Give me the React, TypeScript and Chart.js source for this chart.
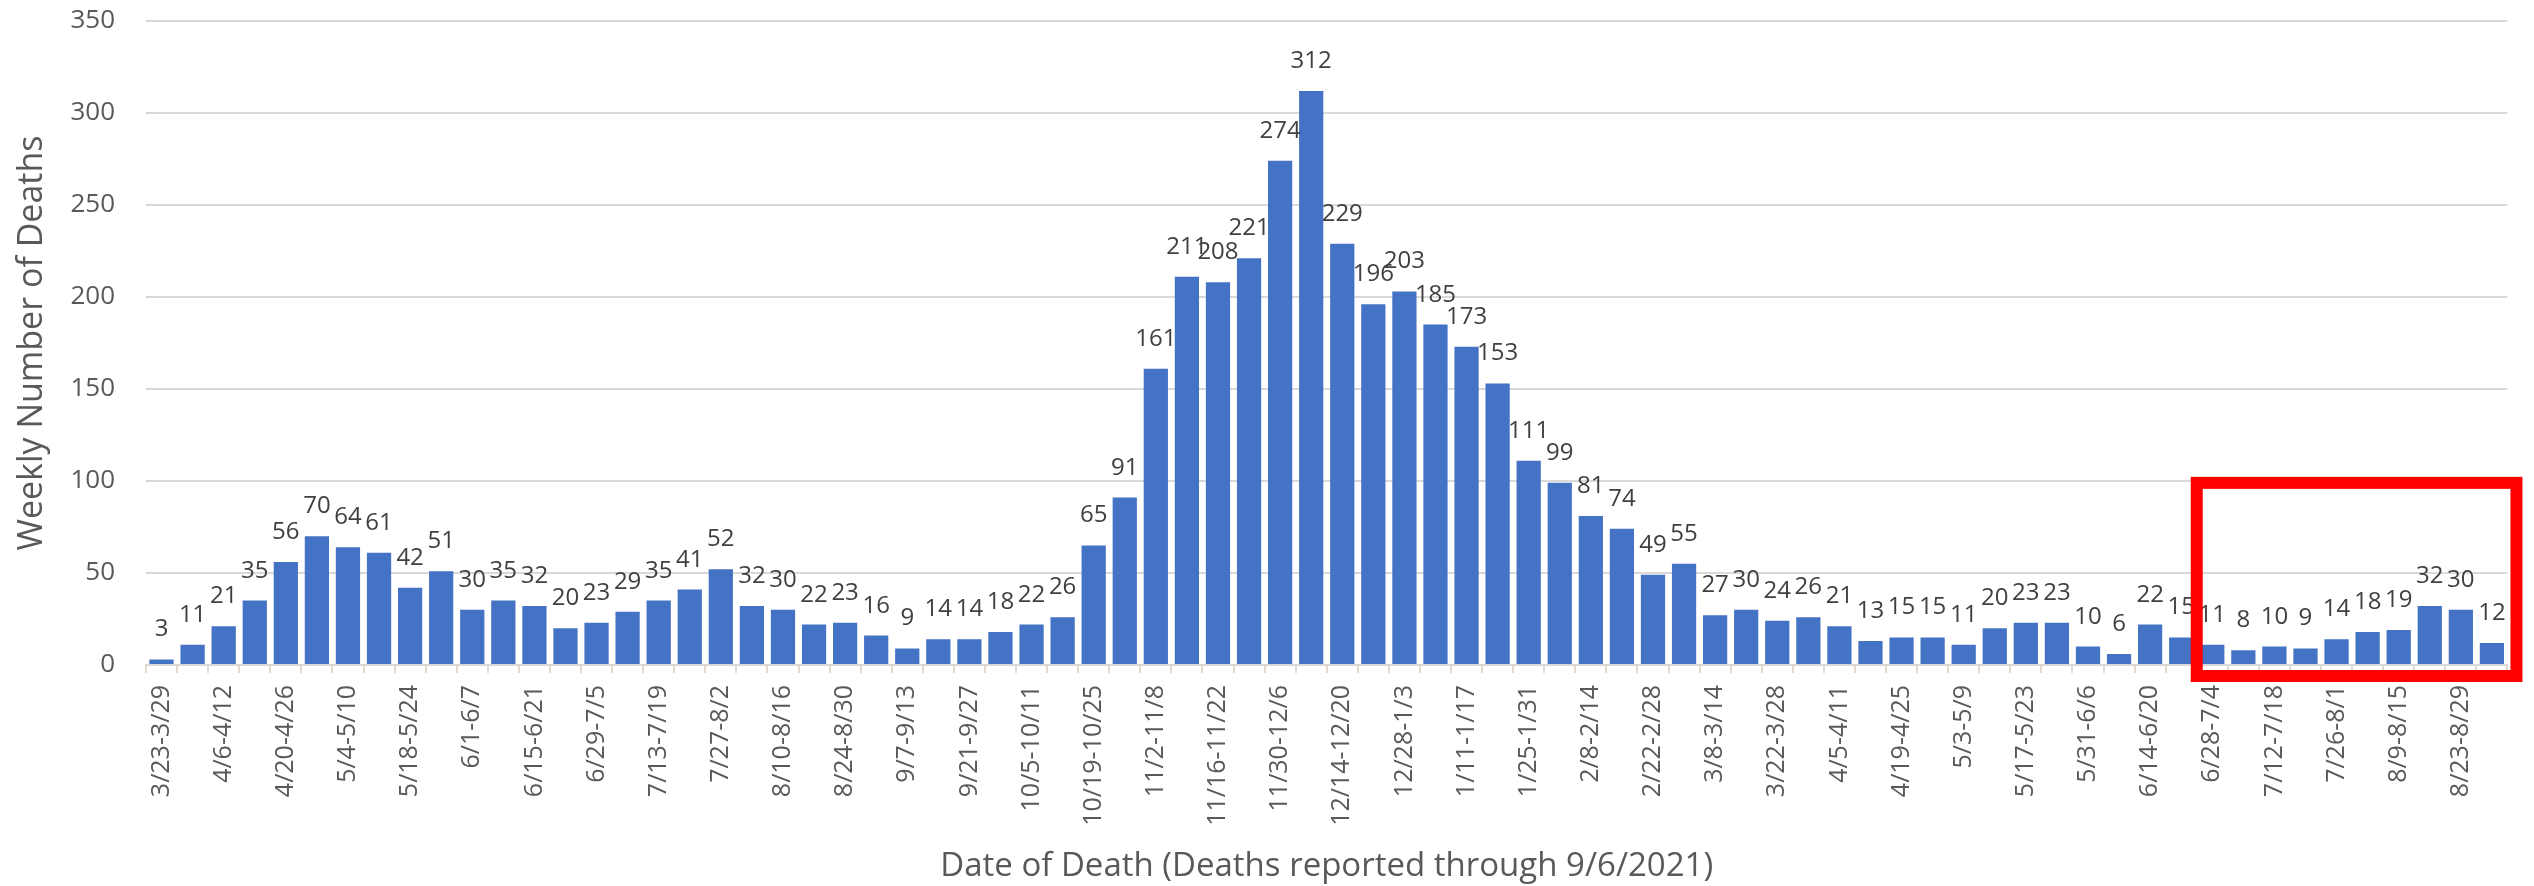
import React, { useEffect, useRef } from "react";
import { Chart, registerables } from "chart.js";

Chart.register(...registerables);

const weekLabels: string[] = [
  "3/23-3/29", "3/30-4/5", "4/6-4/12", "4/13-4/19", "4/20-4/26", "4/27-5/3",
  "5/4-5/10", "5/11-5/17", "5/18-5/24", "5/25-5/31", "6/1-6/7", "6/8-6/14",
  "6/15-6/21", "6/22-6/28", "6/29-7/5", "7/6-7/12", "7/13-7/19", "7/20-7/26",
  "7/27-8/2", "8/3-8/9", "8/10-8/16", "8/17-8/23", "8/24-8/30", "8/31-9/6",
  "9/7-9/13", "9/14-9/20", "9/21-9/27", "9/28-10/4", "10/5-10/11", "10/12-10/18",
  "10/19-10/25", "10/26-11/1", "11/2-11/8", "11/9-11/15", "11/16-11/22", "11/23-11/29",
  "11/30-12/6", "12/7-12/13", "12/14-12/20", "12/21-12/27", "12/28-1/3", "1/4-1/10",
  "1/11-1/17", "1/18-1/24", "1/25-1/31", "2/1-2/7", "2/8-2/14", "2/15-2/21",
  "2/22-2/28", "3/1-3/7", "3/8-3/14", "3/15-3/21", "3/22-3/28", "3/29-4/4",
  "4/5-4/11", "4/12-4/18", "4/19-4/25", "4/26-5/2", "5/3-5/9", "5/10-5/16",
  "5/17-5/23", "5/24-5/30", "5/31-6/6", "6/7-6/13", "6/14-6/20", "6/21-6/27",
  "6/28-7/4", "7/5-7/11", "7/12-7/18", "7/19-7/25", "7/26-8/1", "8/2-8/8",
  "8/9-8/15", "8/16-8/22", "8/23-8/29", "8/30-9/5",
];

const weeklyDeaths: number[] = [
  3, 11, 21, 35, 56, 70, 64, 61, 42, 51, 30, 35,
  32, 20, 23, 29, 35, 41, 52, 32, 30, 22, 23, 16,
  9, 14, 14, 18, 22, 26, 65, 91, 161, 211, 208, 221,
  274, 312, 229, 196, 203, 185, 173, 153, 111, 99, 81, 74,
  49, 55, 27, 30, 24, 26, 21, 13, 15, 15, 11, 20,
  23, 23, 10, 6, 22, 15, 11, 8, 10, 9, 14, 18,
  19, 32, 30, 12,
];

const yTicks: number[] = [0, 50, 100, 150, 200, 250, 300, 350];

const highlightFirstWeek = "6/28-7/4";
const highlightTopValue = 99;

const yTitle = "Weekly Number of Deaths";
const xTitle = "Date of Death (Deaths reported through 9/6/2021)";

const FONT = "'Open Sans', 'Noto Sans', sans-serif";

export default function App() {
  const canvasRef = useRef<HTMLCanvasElement | null>(null);

  useEffect(() => {
    const canvas = canvasRef.current;
    if (!canvas) return;

    const valueLabels = {
      id: "valueLabels",
      afterDatasetsDraw(chart: any) {
        const ctx = chart.ctx;
        const meta = chart.getDatasetMeta(0);
        ctx.save();
        ctx.font = `24px ${FONT}`;
        ctx.fillStyle = "#404040";
        ctx.textAlign = "center";
        ctx.textBaseline = "alphabetic";
        meta.data.forEach((el: any, i: number) => {
          ctx.fillText(String(weeklyDeaths[i]), el.x, el.y - 23);
        });
        ctx.restore();
      },
    };

    const highlightBox = {
      id: "highlightBox",
      afterDraw(chart: any) {
        const ctx = chart.ctx;
        const xs = chart.scales.x;
        const ys = chart.scales.y;
        const idx = weekLabels.indexOf(highlightFirstWeek);
        const left = (xs.getPixelForValue(idx - 1) + xs.getPixelForValue(idx)) / 2;
        const right = chart.chartArea.right + 9;
        const top = ys.getPixelForValue(highlightTopValue);
        const bottom = ys.getPixelForValue(0) + 11;
        ctx.save();
        ctx.strokeStyle = "#FF0000";
        ctx.lineWidth = 12;
        ctx.strokeRect(left, top, right - left, bottom - top);
        ctx.restore();
      },
    };

    const chart = new Chart(canvas, {
      type: "bar",
      data: {
        labels: weekLabels,
        datasets: [
          {
            data: weeklyDeaths,
            backgroundColor: "#4472C4",
            borderWidth: 0,
            categoryPercentage: 1,
            barPercentage: 0.78,
          },
        ],
      },
      options: {
        responsive: false,
        animation: false,
        devicePixelRatio: 1,
        layout: { padding: { top: 21, right: 13, bottom: 0, left: 0 } },
        plugins: {
          legend: { display: false },
          tooltip: { enabled: false },
        },
        scales: {
          x: {
            type: "category",
            offset: true,
            grid: {
              display: true,
              offset: true,
              drawOnChartArea: false,
              drawTicks: true,
              tickLength: 8,
              color: "#e2d9cc",
              lineWidth: 2,
            },
            border: { display: true, color: "#d9d9d9", width: 2 },
            ticks: {
              autoSkip: false,
              maxRotation: 90,
              minRotation: 90,
              padding: 12,
              color: "#595959",
              font: { family: FONT, size: 25 },
              callback: function (this: any, value: any, index: number) {
                return index % 2 === 0 ? this.getLabelForValue(value) : "";
              },
            },
            title: {
              display: true,
              text: xTitle,
              color: "#595959",
              font: { family: FONT, size: 33 },
              padding: { top: 0, bottom: 0 },
            },
            afterFit: (scale: any) => {
              scale.height = 221;
            },
          },
          y: {
            min: 0,
            max: 350,
            afterBuildTicks: (scale: any) => {
              scale.ticks = yTicks.map((v) => ({ value: v }));
            },
            grid: {
              color: "#d9d9d9",
              lineWidth: 2,
              drawTicks: true,
              tickLength: 27,
              tickColor: "rgba(0,0,0,0)",
            },
            border: { display: false },
            ticks: {
              padding: 4,
              color: "#595959",
              font: { family: FONT, size: 26 },
            },
            title: {
              display: true,
              text: yTitle,
              color: "#595959",
              font: { family: FONT, size: 34 },
              padding: { top: 12, bottom: 0 },
            },
            afterFit: (scale: any) => {
              scale.width = 146;
            },
          },
        },
      },
      plugins: [valueLabels, highlightBox],
    } as any);

    return () => {
      chart.destroy();
    };
  }, []);

  return (
    <div style={{ position: "absolute", left: 0, top: 0, width: 2534, height: 886, background: "#ffffff" }}>
      <canvas ref={canvasRef} width={2534} height={886} />
    </div>
  );
}
